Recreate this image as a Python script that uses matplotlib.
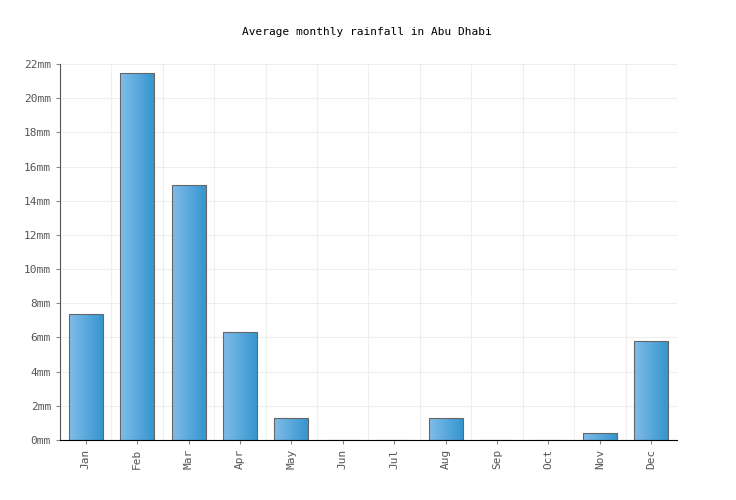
#!/usr/bin/env python3
"""Average monthly rainfall in Abu Dhabi, gradient bar chart."""
import numpy as np
import matplotlib
matplotlib.use("Agg")
import matplotlib.pyplot as plt
from matplotlib.colors import LinearSegmentedColormap

months = ["Jan", "Feb", "Mar", "Apr", "May", "Jun", "Jul", "Aug", "Sep", "Oct", "Nov", "Dec"]
rain_mm = [7.4, 21.5, 14.9, 6.3, 1.3, 0, 0, 1.3, 0, 0, 0.4, 5.8]
y_ticks = list(range(0, 23, 2))

plt.rcParams["font.family"] = "DejaVu Sans Mono"

fig = plt.figure(figsize=(7.36, 5), dpi=100)
ax = fig.add_axes([60 / 736, 60 / 500, 617 / 736, 376 / 500])

x = np.arange(len(months))
width = 0.66
cmap = LinearSegmentedColormap.from_list("bar", ["#80bcea", "#3696cf"])
grad = np.linspace(0, 1, 64).reshape(1, -1)

bars = ax.bar(x, rain_mm, width=width, facecolor="none", edgecolor="#666666", linewidth=0.8, zorder=3)
for b in bars:
    h = b.get_height()
    if h <= 0:
        continue
    x0 = b.get_x()
    im = ax.imshow(grad, cmap=cmap, aspect="auto", extent=[x0, x0 + width, 0, h], zorder=2)
    im.set_clip_path(b)

ax.set_xlim(-0.5, len(months) - 0.5)
ax.set_ylim(0, 22)
ax.set_yticks(y_ticks)
ax.set_yticklabels([f"{v}mm" for v in y_ticks], fontsize=8, color="#555555")
ax.set_xticks(x)
ax.set_xticklabels(months, rotation=90, fontsize=8, color="#555555")
ax.set_xticks(np.arange(-0.5, len(months)), minor=True)
ax.grid(True, axis="y", color="#eeeeee", lw=0.8, zorder=0)
ax.grid(True, axis="x", which="minor", color="#eeeeee", lw=0.8, zorder=0)
ax.tick_params(axis="x", which="minor", length=0)
ax.tick_params(axis="both", which="major", length=3, color="#888888")
for s in ["top", "right"]:
    ax.spines[s].set_visible(False)
ax.spines["left"].set_color("#555555")
ax.spines["bottom"].set_color("#000000")

fig.text(367 / 736, 1 - 32 / 500, "Average monthly rainfall in Abu Dhabi", ha="center", va="center", fontsize=8)

fig.savefig("out.png", dpi=100, facecolor="white")
plt.close(fig)
